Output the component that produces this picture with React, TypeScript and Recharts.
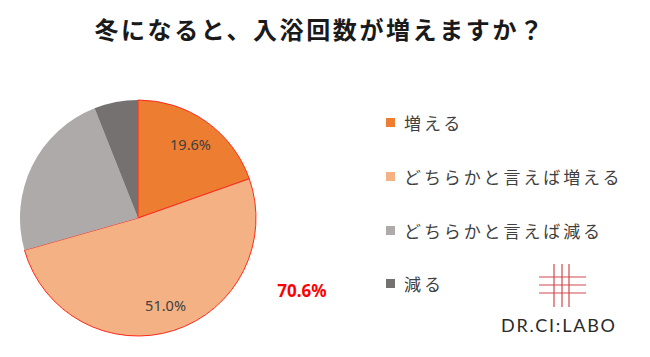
import { Cell, Customized, Legend, Pie, PieChart } from "recharts";

const answers = ["増える", "どちらかと言えば増える", "どちらかと言えば減る", "減る"];
const shares = [19.6, 51.0, 23.4, 6.0];
const fills = ["#ED7D31", "#F4B183", "#AEAAAA", "#767171"];
const outlined = [true, true, false, false];
const increaseTotal = "70.6%";
const shownLabels = ["19.6%", "51.0%", "", ""];

const data = answers.map((name, i) => ({ name, value: shares[i] }));
const RAD = Math.PI / 180;

function SliceLabel(props: any) {
  const { cx, cy, midAngle, outerRadius, index } = props;
  const text = shownLabels[index];
  if (!text) return null;
  const r = outerRadius * 0.77;
  const x = cx + r * Math.cos(-midAngle * RAD);
  const y = cy + r * Math.sin(-midAngle * RAD);
  return (
    <text x={x} y={y} fill="#404040" fontSize={14.5} textAnchor="middle" dominantBaseline="central"
      fontFamily="'Noto Sans', sans-serif">
      {text}
    </text>
  );
}

function LegendList() {
  return (
    <div style={{ fontFamily: "'Noto Sans CJK JP', sans-serif", color: "#404040", fontSize: 17, letterSpacing: 2.9 }}>
      {data.map((d, i) => (
        <div key={d.name} style={{ display: "flex", alignItems: "center", height: 53.7 }}>
          <span style={{ width: 9, height: 9, background: fills[i], marginRight: 9 }} />
          {d.name}
        </div>
      ))}
    </div>
  );
}

function Extras() {
  return (
    <g>
      <text x={320} y={28} textAnchor="middle" dominantBaseline="central" fontSize={24} fontWeight="bold"
        fill="#1a1a1a" fontFamily="'Noto Sans CJK JP', sans-serif" letterSpacing={2.6}>
        冬になると、入浴回数が増えますか？
      </text>
      <text x={302} y={290} textAnchor="middle" dominantBaseline="central" fontSize={17} fontWeight="bold"
        fill="#FF0000" fontFamily="'Noto Sans', sans-serif">
        {increaseTotal}
      </text>
      <g stroke="#D0484C" strokeWidth={1.2}>
        <line x1={539} y1={277} x2={586} y2={277} />
        <line x1={539} y1={285} x2={586} y2={285} />
        <line x1={539} y1={293} x2={586} y2={293} />
        <line x1={554} y1={264} x2={554} y2={307} />
        <line x1={562} y1={264} x2={562} y2={307} />
        <line x1={569} y1={264} x2={569} y2={307} />
      </g>
      <text x={558} y={325} textAnchor="middle" dominantBaseline="central" fontSize={18}
        fill="#2a2a2a" fontFamily="Lato, sans-serif" fontWeight={400} textLength={114}>
        DR.CI:LABO
      </text>
    </g>
  );
}

export default function App() {
  return (
    <div style={{ position: "absolute", left: 0, top: 0, width: 650, height: 357, background: "#fff" }}>
      <PieChart width={650} height={357} margin={{ top: 0, right: 0, bottom: 0, left: 0 }}>
        <Pie
          data={data}
          dataKey="value"
          nameKey="name"
          cx={138}
          cy={218}
          outerRadius={118}
          startAngle={90}
          endAngle={-270}
          label={SliceLabel}
          labelLine={false}
          isAnimationActive={false}
        >
          {data.map((d, i) => (
            <Cell key={d.name} fill={fills[i]} stroke={outlined[i] ? "#FF2A1A" : "none"} strokeWidth={1} />
          ))}
        </Pie>
        <Legend
          layout="vertical"
          content={() => <LegendList />}
          wrapperStyle={{ position: "absolute", left: 386, top: 96, width: 264 }}
        />
        <Customized component={Extras} />
      </PieChart>
    </div>
  );
}
